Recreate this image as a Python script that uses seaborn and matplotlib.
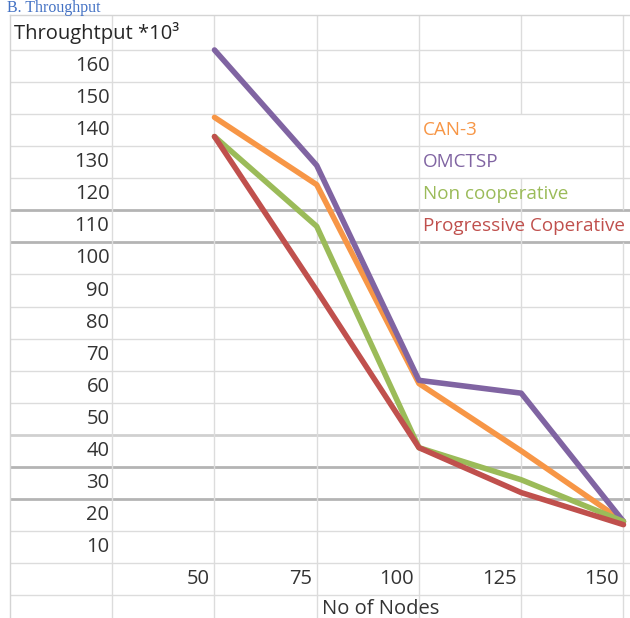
import pandas as pd
import matplotlib.pyplot as plt
import seaborn as sns

# data
nodes = [50, 75, 100, 125, 150]
can3 = [144, 123, 61, 40, 18]
omctsp = [165, 129, 62, 58, 18]
non_coop = [138, 110, 41, 31, 18]
prog_coop = [138, 90, 41, 27, 17]

series_names = ['CAN-3', 'OMCTSP', 'Non cooperative', 'Progressive Coperative']
series_colors = ['#F79646', '#8064A2', '#9BBB59', '#C0504D']
y_ticks = [160, 150, 140, 130, 120, 110, 100, 90, 80, 70, 60, 50, 40, 30, 20, 10]
x_ticks = [50, 75, 100, 125, 150]

df = pd.concat([
    pd.DataFrame({'nodes': nodes, 'throughput': vals, 'scheme': name})
    for name, vals in zip(series_names, [can3, omctsp, non_coop, prog_coop])
])

sns.set_theme(style="white")
plt.rcParams['font.family'] = ['Open Sans', 'DejaVu Sans']

fig = plt.figure(figsize=(6.3, 6.18), dpi=100)
ax = fig.add_axes([10 / 630, 0, 620 / 630, 603 / 618])
ax.set_xlim(0, 151.6)
ax.set_ylim(-12.1, 175.9)
ax.set_xticks([])
ax.set_yticks([])
for side in ['right', 'bottom']:
    ax.spines[side].set_visible(False)
for side in ['top', 'left']:
    ax.spines[side].set_color('#d4d4d4')
    ax.spines[side].set_linewidth(1)

# spreadsheet grid
grid = '#dcdcdc'
heavy = {115: '#b4b4b4', 105: '#b4b4b4', 35: '#b4b4b4', 25: '#b4b4b4', 45: '#d0d0d0'}
row_lines = [165 - 10 * i for i in range(18)]
for r in row_lines:
    ax.axhline(r, color=heavy.get(r, grid), lw=2 if r in heavy else 1, zorder=0)
for c in [25, 50, 75, 100]:
    ax.axvline(c, color=grid, lw=1, zorder=0)
# text overflow hides some column borders
ax.vlines(125, -12.1, 125, color=grid, lw=1, zorder=0)
ax.vlines(125, 145, 175.9, color=grid, lw=1, zorder=0)
ax.vlines(150, -12.1, 105, color=grid, lw=1, zorder=0)
ax.vlines(150, 115, 175.9, color=grid, lw=1, zorder=0)

sns.lineplot(data=df, x='nodes', y='throughput', hue='scheme',
             hue_order=series_names, palette=series_colors,
             linewidth=4, legend=False, ax=ax, zorder=3)
ax.set_xlabel('')
ax.set_ylabel('')

txt = '#333333'
fs = 14.5
for v in y_ticks:
    ax.text(24.3, v, str(v), ha='right', va='center', fontsize=fs, color=txt)
for v in x_ticks:
    ax.text(v - 1.2, 0, str(v), ha='right', va='center', fontsize=fs, color=txt)
ax.text(90.7, -9.4, 'No of Nodes', ha='center', va='center', fontsize=fs, color=txt)
ax.text(1, 170.2, 'Throughtput *10³', ha='left', va='center', fontsize=fs, color='#262626')

for i, (name, col) in enumerate(zip(series_names, series_colors)):
    ax.text(101.0, 140 - 10 * i, name, ha='left', va='center', fontsize=13.6,
            color=col, clip_on=False)

fig.text(7 / 630, 1 - 12 / 618, 'B. Throughput', ha='left', va='baseline',
         fontsize=11.5, color='#4472C4', family=['Liberation Serif', 'DejaVu Serif'])

fig.savefig('out.png', dpi=100)
